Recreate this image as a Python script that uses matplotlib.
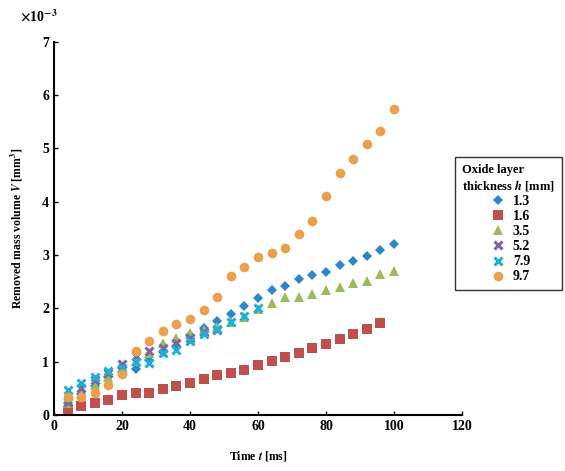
import numpy as np
import matplotlib
matplotlib.use("Agg")
import matplotlib.pyplot as plt

# time axis [ms]
t_all = [4, 8, 12, 16, 20, 24, 28, 32, 36, 40, 44, 48, 52, 56, 60, 64, 68, 72, 76, 80, 84, 88, 92, 96, 100]

# removed mass volume, x 10^-3 mm^3
v_13 = [0.22, 0.40, 0.55, 0.72, 0.88, 0.86, 1.04, 1.18, 1.30, 1.50, 1.63, 1.76, 1.90, 2.04, 2.20,
        2.35, 2.42, 2.55, 2.63, 2.68, 2.81, 2.89, 2.98, 3.10, 3.21]
v_16 = [0.08, 0.16, 0.22, 0.28, 0.38, 0.41, 0.42, 0.49, 0.54, 0.60, 0.67, 0.75, 0.79, 0.84, 0.94,
        1.01, 1.09, 1.16, 1.26, 1.33, 1.43, 1.52, 1.61, 1.73]
v_35 = [0.22, 0.40, 0.56, 0.71, 0.88, 1.01, 1.16, 1.35, 1.45, 1.54, 1.59, 1.65, 1.74, 1.84, 1.99,
        2.10, 2.21, 2.21, 2.27, 2.35, 2.40, 2.47, 2.52, 2.65, 2.70]
v_52 = [0.25, 0.50, 0.65, 0.78, 0.95, 1.10, 1.20, 1.25, 1.35, 1.45, 1.55, 1.60]
v_79 = [0.47, 0.60, 0.71, 0.82, 0.88, 1.00, 0.98, 1.16, 1.22, 1.38, 1.52, 1.62, 1.75, 1.86, 2.00]
v_97 = [0.34, 0.34, 0.42, 0.56, 0.76, 1.20, 1.39, 1.58, 1.70, 1.80, 1.97, 2.21, 2.61, 2.78, 2.96,
        3.04, 3.13, 3.40, 3.64, 4.11, 4.54, 4.80, 5.08, 5.33, 5.74]

labels = ["1.3", "1.6", "3.5", "5.2", "7.9", "9.7"]

plt.rcParams['font.family'] = ['Liberation Serif', 'DejaVu Serif']
plt.rcParams['font.weight'] = 'bold'
plt.rcParams['mathtext.fontset'] = 'stix'

fig = plt.figure(figsize=(5.65, 4.71), dpi=100)
ax = fig.add_axes([0.0956, 0.119, 0.722, 0.792])

series = [
    (v_13, 'D', '#2c87c8', 5.5),
    (v_16, 's', '#c0504d', 6.5),
    (v_35, '^', '#9bbb59', 6.5),
    (v_52, 'x', '#8064a2', 6),
    (v_79, 'x', '#1fb0d8', 6),
    (v_97, 'o', '#e9a14c', 7),
]

for (vals, mk, col, ms), lab in zip(series, labels):
    x = t_all[:len(vals)]
    if mk == 'x':
        ax.plot(x, vals, linestyle='none', marker=mk, color=col, markersize=ms,
                markeredgewidth=2.2, label=lab)
    else:
        ax.plot(x, vals, linestyle='none', marker=mk, color=col, markersize=ms,
                markeredgewidth=0, label=lab)

ax.set_xlim(0, 120)
ax.set_ylim(0, 7)
ax.set_xticks(np.arange(0, 121, 20))
ax.set_yticks(np.arange(0, 8, 1))
ax.tick_params(direction='in', length=3, labelsize=10, width=1)
for s in ['top', 'right']:
    ax.spines[s].set_visible(False)
for s in ['left', 'bottom']:
    ax.spines[s].set_linewidth(1.5)

ax.set_xlabel("Time $t$ [ms]", fontsize=8.5, fontweight='bold', labelpad=12)
ax.set_ylabel("Removed mass volume $V$ [mm$^3$]", fontsize=8.5, fontweight='bold', labelpad=12)
fig.text(0.035, 0.955, r"$\times$10$^{-3}$", fontsize=10, fontweight='bold')

leg = fig.legend(loc='upper left', bbox_to_anchor=(0.793, 0.682), frameon=True, fontsize=10,
                 title="Oxide layer\nthickness $h$ [mm]", title_fontsize=9,
                 handletextpad=0.3, labelspacing=0.15, borderpad=0.5, fancybox=False,
                 handlelength=1.6)
leg.get_frame().set_edgecolor('black')
leg.get_frame().set_linewidth(1.0)
leg.get_title().set_fontweight('bold')

fig.savefig("out.png", dpi=100)
